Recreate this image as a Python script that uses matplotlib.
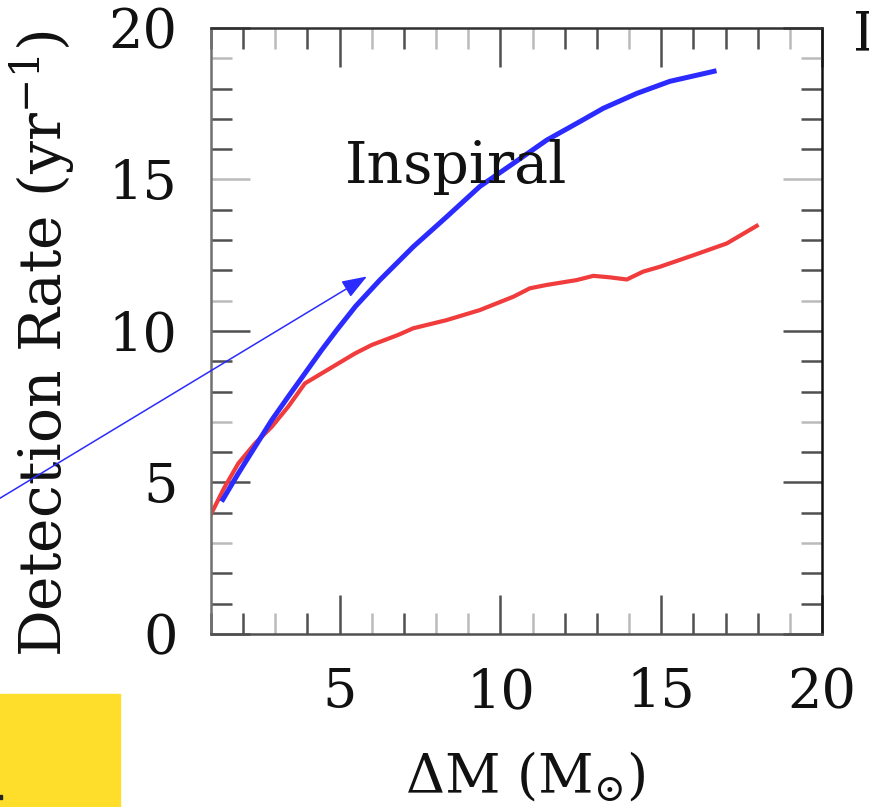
import matplotlib
matplotlib.use("Agg")
import matplotlib.pyplot as plt
from matplotlib.patches import Rectangle
from matplotlib.ticker import FixedLocator, MultipleLocator

# values
red_x = [1.0, 1.4, 1.85, 2.37, 2.89, 3.4, 3.92, 4.44, 4.96, 5.48, 6.0, 6.82,
         7.29, 8.33, 9.36, 10.4, 10.92, 11.44, 12.37, 12.89, 13.41, 13.93,
         14.44, 14.96, 16.0, 17.04, 17.97]
red_y = [3.95, 4.8, 5.63, 6.29, 6.84, 7.5, 8.27, 8.6, 8.93, 9.26, 9.54, 9.87,
         10.09, 10.36, 10.69, 11.13, 11.41, 11.52, 11.68, 11.82, 11.77, 11.70,
         11.96, 12.12, 12.5, 12.89, 13.47]

blue_x = [1.33, 1.85, 2.37, 2.89, 3.4, 3.92, 4.44, 4.91, 5.5, 6.25, 7.29, 8.33,
          9.36, 10.4, 11.44, 12.47, 13.2, 14.24, 15.27, 16.72]
blue_y = [4.37, 5.3, 6.18, 7.06, 7.83, 8.6, 9.37, 10.03, 10.82, 11.68, 12.78,
          13.77, 14.77, 15.53, 16.3, 16.91, 17.35, 17.84, 18.24, 18.59]

arrow_tail = (-6.0, 4.2)
arrow_tip = (5.85, 11.8)

x_major = [5, 10, 15, 20]
y_major = [0, 5, 10, 15, 20]
x_gray = [3, 6, 8, 9, 11, 14, 19]
y_gray = [3, 7, 11, 15, 19]

plt.rcParams['font.family'] = ['DejaVu Serif']
plt.rcParams['mathtext.fontset'] = 'dejavuserif'

fig = plt.figure(figsize=(8.69, 8.07), dpi=100)
ax = fig.add_axes([0.2428, 0.2144, 0.7031, 0.7509])

ax.plot(red_x, red_y, color='#F03C3C', lw=3.0, solid_joinstyle='round')
ax.plot(blue_x, blue_y, color='#2B2BFF', lw=3.6, solid_capstyle='butt',
        solid_joinstyle='round')

ax.annotate("", xy=arrow_tip, xytext=arrow_tail, annotation_clip=False,
            arrowprops=dict(arrowstyle="-|>,head_length=1.1,head_width=0.4",
                            mutation_scale=14, color='#2B2BFF', lw=1.1,
                            shrinkA=0, shrinkB=0))

ax.text(5.17, 14.88, "Inspiral", fontsize=41, va='baseline', ha='left',
        color='#111111')

ax.set_xlim(1, 20)
ax.set_ylim(0, 20)
ax.xaxis.set_major_locator(FixedLocator(x_major))
ax.yaxis.set_major_locator(FixedLocator(y_major))
ax.xaxis.set_minor_locator(MultipleLocator(1))
ax.yaxis.set_minor_locator(MultipleLocator(1))

ax.tick_params(which='both', direction='in', top=True, right=True,
               color='#505050', width=1.8, labelsize=39, labelcolor='#111111')
ax.tick_params(which='major', length=28, pad=24)
ax.tick_params(which='minor', length=15)

ax.spines['left'].set_color('#707070')
ax.spines['bottom'].set_color('#505050')
ax.spines['top'].set_color('#303030')
ax.spines['right'].set_color('#111111')
for s in ax.spines.values():
    s.set_linewidth(1.8)

ax.set_xlabel(r"$\Delta$M (M$_{\odot}$)", fontsize=39, color='#111111')
ax.set_ylabel(r"Detection Rate (yr$^{-1}$)", fontsize=42, color='#111111')
ax.xaxis.set_label_coords(0.515, -0.19)
ax.yaxis.set_label_coords(-0.22, 0.48)

# cropped pieces around the figure
fig.text(853 / 869, 1 - 50 / 807, "I", fontsize=39, va='baseline',
         ha='left', color='#111111')
fig.patches.append(Rectangle((0, 0), 120 / 869, 113 / 807,
                             transform=fig.transFigure, color='#FEDE2A',
                             zorder=0))
fig.patches.append(Rectangle((0, 8 / 807), 2 / 869, 4 / 807,
                             transform=fig.transFigure, color='#222222',
                             zorder=1))

# some ticks look pale in the scan
fig.canvas.draw()
for axis, gray in ((ax.xaxis, x_gray), (ax.yaxis, y_gray)):
    for locs, ticks in ((axis.get_minorticklocs(), axis.get_minor_ticks),
                        (axis.get_majorticklocs(), axis.get_major_ticks)):
        for loc, t in zip(locs, ticks(len(locs))):
            if int(round(loc)) in gray:
                t.tick1line.set_markeredgecolor('#BBBBBB')
                t.tick2line.set_markeredgecolor('#BBBBBB')

fig.savefig("out.png", dpi=100)
